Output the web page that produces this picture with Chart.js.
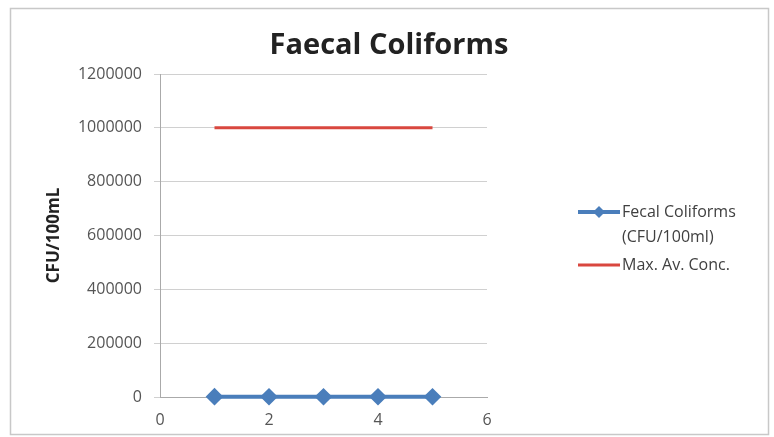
<!DOCTYPE html>
<html>
<head>
<meta charset="utf-8">
<script src="https://cdn.jsdelivr.net/npm/chart.js@4"></script>
<style>
  html, body { margin: 0; padding: 0; background: #fff; }
  #wrap { width: 774px; height: 437px; }
</style>
</head>
<body>
<div id="wrap"><canvas id="chart" width="774" height="437"></canvas></div>
<script>
// sample number along x
const samples = [1, 2, 3, 4, 5];
// measured faecal coliforms (tiny next to the limit)
const fecalValues = [1200, 900, 1100, 1000, 1000];
// maximum average concentration
const maxConc = [1000000, 1000000, 1000000, 1000000, 1000000];
const yTicks = [0, 200000, 400000, 600000, 800000, 1000000, 1200000];
const xTicks = [0, 2, 4, 6];
const chartTitle = "Faecal Coliforms";
const legendLines = [["Fecal Coliforms", "(CFU/100ml)"], ["Max. Av. Conc."]];

const fontFam = "'Open Sans', 'Liberation Sans', sans-serif";

// frame, title and legend drawn around the plot
const framePlugin = {
  id: "frame",
  beforeDraw(chart) {
    const ctx = chart.ctx;
    ctx.save();
    ctx.fillStyle = "#fff";
    ctx.fillRect(0, 0, chart.width, chart.height);
    ctx.strokeStyle = "#c8c8c8";
    ctx.lineWidth = 1.5;
    ctx.strokeRect(10.5, 8.5, 758, 426);
    ctx.restore();
  },
  afterDraw(chart) {
    const ctx = chart.ctx;
    const ds = chart.data.datasets;
    ctx.save();
    // title
    ctx.font = "bold 29px " + fontFam;
    ctx.fillStyle = "#222";
    ctx.textAlign = "center";
    ctx.textBaseline = "middle";
    ctx.fillText(chartTitle, 389, 46);
    // legend
    ctx.textAlign = "left";
    ctx.font = "16px " + fontFam;
    let y = 212;
    ctx.strokeStyle = ds[0].borderColor;
    ctx.lineWidth = 4;
    ctx.beginPath(); ctx.moveTo(578, y); ctx.lineTo(620, y); ctx.stroke();
    ctx.fillStyle = ds[0].borderColor;
    ctx.beginPath();
    ctx.moveTo(599, y - 6); ctx.lineTo(605, y); ctx.lineTo(599, y + 6); ctx.lineTo(593, y);
    ctx.closePath(); ctx.fill();
    ctx.fillStyle = "#404040";
    ctx.fillText(legendLines[0][0], 622, y);
    ctx.fillText(legendLines[0][1], 622, y + 25);
    y = 265;
    ctx.strokeStyle = ds[1].borderColor;
    ctx.lineWidth = 3;
    ctx.beginPath(); ctx.moveTo(578, y); ctx.lineTo(620, y); ctx.stroke();
    ctx.fillText(legendLines[1][0], 622, y);
    ctx.restore();
  }
};

new Chart(document.getElementById("chart"), {
  type: "line",
  data: {
    datasets: [
      {
        label: legendLines[0].join(" "),
        data: samples.map((x, i) => ({ x: x, y: fecalValues[i] })),
        borderColor: "#4a7ebb",
        backgroundColor: "#4a7ebb",
        borderWidth: 4,
        pointStyle: "rectRot",
        pointRadius: 6,
        pointHoverRadius: 6,
        clip: false
      },
      {
        label: legendLines[1][0],
        data: samples.map((x, i) => ({ x: x, y: maxConc[i] })),
        borderColor: "#d9473f",
        backgroundColor: "#d9473f",
        borderWidth: 3,
        pointRadius: 0,
        clip: false
      }
    ]
  },
  options: {
    responsive: false,
    animation: false,
    layout: { padding: { top: 74, right: 287, bottom: 0, left: 44 } },
    plugins: {
      legend: { display: false },
      tooltip: { enabled: false },
      title: { display: false }
    },
    scales: {
      x: {
        type: "linear",
        min: 0,
        max: 6,
        afterBuildTicks(scale) { scale.ticks = xTicks.map(v => ({ value: v })); },
        afterFit(scale) { scale.height = 40; },
        grid: { display: false },
        border: { color: "#aaa" },
        ticks: { color: "#555", font: { family: fontFam, size: 16 }, padding: 6, callback: v => String(v) }
      },
      y: {
        min: 0,
        max: 1200000,
        afterBuildTicks(scale) { scale.ticks = yTicks.map(v => ({ value: v })); },
        afterFit(scale) { scale.width = 116; },
        grid: { color: "#d0d0d0", tickLength: 6 },
        border: { color: "#aaa" },
        ticks: { color: "#555", font: { family: fontFam, size: 16 }, padding: 12, callback: v => String(v) },
        title: {
          display: true,
          text: "CFU/100mL",
          color: "#222",
          font: { family: fontFam, size: 17, weight: "bold" },
          padding: 0
        }
      }
    }
  },
  plugins: [framePlugin]
});
</script>
</body>
</html>
